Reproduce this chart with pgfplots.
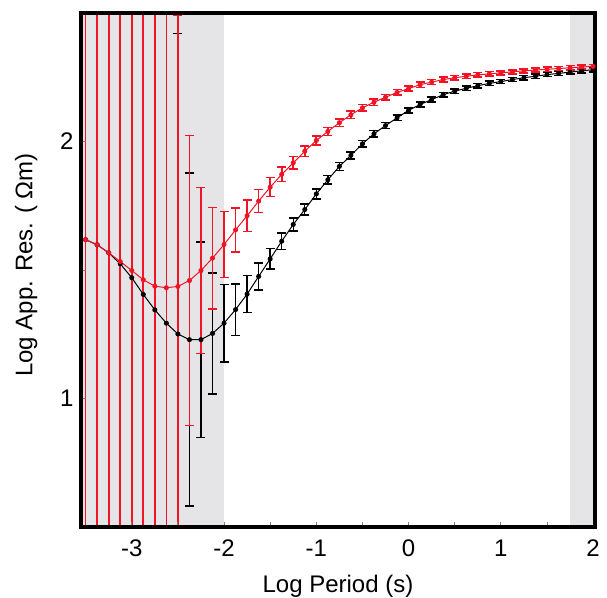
\documentclass[border=0pt]{standalone}
\usepackage{fontspec}
\setmainfont{Liberation Sans}
\usepackage{pgfplots}
\pgfplotsset{compat=1.18}
\usepackage{pgfplotstable}

\definecolor{mtred}{RGB}{240,20,36}
\definecolor{shade}{RGB}{229,229,231}

% columns: log period, log apparent resistivity, error
\pgfplotstableread{
x y e
-3.5 1.618 3.0
-3.375 1.598 3.0
-3.25 1.567 3.0
-3.125 1.524 3.0
-3.0 1.470 3.0
-2.875 1.405 3.0
-2.75 1.345 3.0
-2.625 1.293 3.0
-2.5 1.251 1.170
-2.375 1.229 0.648
-2.25 1.229 0.380
-2.125 1.253 0.236
-2.0 1.293 0.151
-1.875 1.346 0.100
-1.75 1.406 0.072
-1.625 1.475 0.053
-1.5 1.543 0.040
-1.375 1.612 0.032
-1.25 1.677 0.026
-1.125 1.735 0.022
-1.0 1.796 0.019
-0.875 1.851 0.017
-0.75 1.903 0.015
-0.625 1.946 0.014
-0.5 1.991 0.013
-0.375 2.030 0.012
-0.25 2.062 0.011
-0.125 2.092 0.011
0.0 2.121 0.010
0.125 2.144 0.010
0.25 2.163 0.010
0.375 2.182 0.009
0.5 2.196 0.009
0.625 2.207 0.009
0.75 2.217 0.009
0.875 2.226 0.009
1.0 2.233 0.008
1.125 2.241 0.008
1.25 2.248 0.008
1.375 2.254 0.008
1.5 2.260 0.008
1.625 2.265 0.008
1.75 2.270 0.008
1.875 2.275 0.008
2.0 2.279 0.008
}\blackdata

\pgfplotstableread{
x y e
-3.5 1.618 3.0
-3.375 1.598 3.0
-3.25 1.567 3.0
-3.125 1.533 3.0
-3.0 1.498 3.0
-2.875 1.462 3.0
-2.75 1.437 3.0
-2.625 1.431 3.0
-2.5 1.436 1.054
-2.375 1.459 0.564
-2.25 1.498 0.323
-2.125 1.546 0.197
-2.0 1.599 0.129
-1.875 1.656 0.086
-1.75 1.711 0.062
-1.625 1.768 0.045
-1.5 1.822 0.037
-1.375 1.872 0.028
-1.25 1.917 0.024
-1.125 1.962 0.020
-1.0 2.004 0.018
-0.875 2.039 0.016
-0.75 2.073 0.015
-0.625 2.104 0.014
-0.5 2.131 0.013
-0.375 2.153 0.012
-0.25 2.172 0.011
-0.125 2.191 0.011
0.0 2.206 0.010
0.125 2.221 0.010
0.25 2.231 0.010
0.375 2.241 0.009
0.5 2.248 0.009
0.625 2.254 0.009
0.75 2.259 0.009
0.875 2.263 0.009
1.0 2.267 0.008
1.125 2.271 0.008
1.25 2.275 0.008
1.375 2.278 0.008
1.5 2.281 0.008
1.625 2.284 0.008
1.75 2.287 0.008
1.875 2.290 0.008
2.0 2.292 0.008
}\reddata

\begin{document}
\begin{tikzpicture}
\path[use as bounding box] (-81pt,-70pt) rectangle (526pt,527pt);
\begin{axis}[
  at={(0pt,0pt)}, anchor=south west,
  scale only axis, width=514pt, height=514pt,
  xmin=-3.55, xmax=2.02, ymin=0.5, ymax=2.5,
  xtick={-3,-2,-1,0,1,2}, ytick={1,2},
  minor tick num=1,
  tick pos=left, tick align=inside,
  major tick length=5pt, minor tick length=5pt,
  tick style={gray, line width=0.8pt},
  axis line style={line width=3.3pt, black},
  axis on top,
  font=\fontsize{24}{28}\selectfont,
  /pgf/number format/assume math mode=true,
  xticklabel style={yshift=-9pt},
  yticklabel style={xshift=-4pt},
  xlabel={Log Period (s)},
  ylabel={Log App. Res. ( Ωm)},
  xlabel style={yshift=-12pt},
  ylabel style={yshift=16pt, xshift=5pt},
  clip=true,
]
% data windows outside the trusted band
\addplot[draw=none, fill=shade] coordinates {(-3.6,0.4) (-2.0,0.4) (-2.0,2.6) (-3.6,2.6)} -- cycle;
\addplot[draw=none, fill=shade] coordinates {(1.75,0.4) (2.1,0.4) (2.1,2.6) (1.75,2.6)} -- cycle;

\addplot[black, line width=1pt, mark=*, mark size=2pt,
  error bars/.cd, y dir=both, y explicit,
  error bar style={line width=1.4pt, black},
  error mark options={rotate=90, line width=1.5pt, mark size=4.5pt, black}]
  table[x=x, y=y, y error=e] {\blackdata};

\addplot[mtred, line width=1pt, mark=*, mark size=2pt,
  error bars/.cd, y dir=both, y explicit,
  error bar style={line width=1.7pt, mtred},
  error mark options={rotate=90, line width=1.5pt, mark size=4.5pt, mtred}]
  table[x=x, y=y, y error=e] {\reddata};
\end{axis}
\end{tikzpicture}
\end{document}
